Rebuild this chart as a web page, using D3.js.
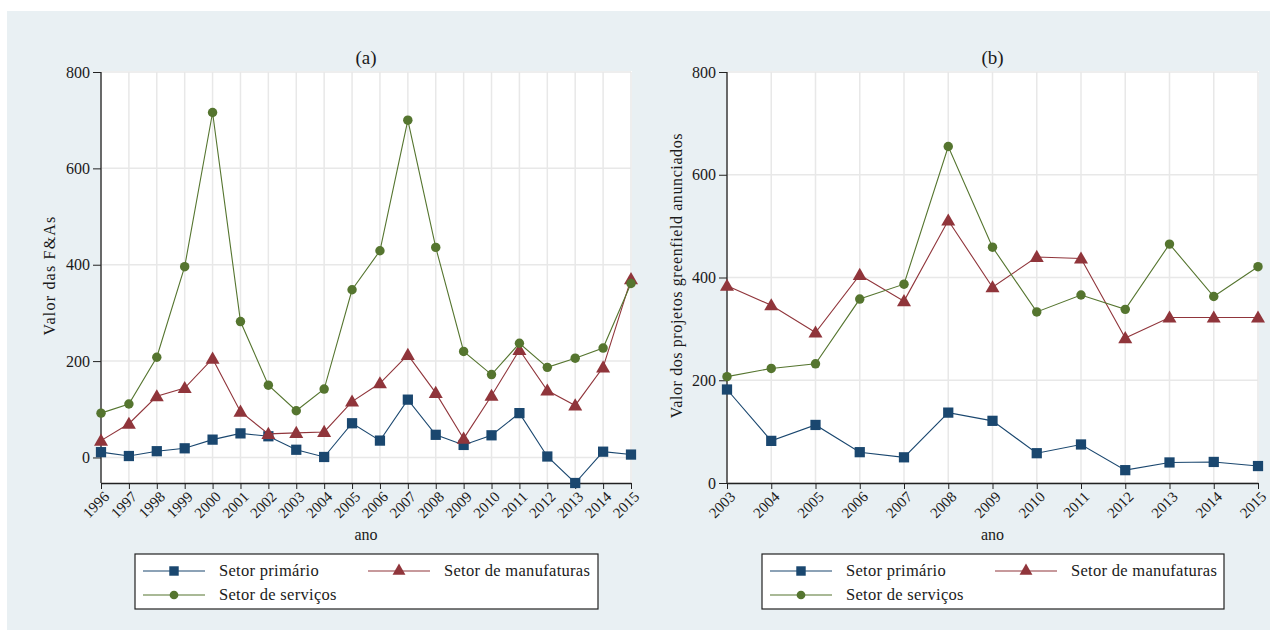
<!DOCTYPE html>
<html>
<head>
<meta charset="utf-8">
<script src="https://cdn.jsdelivr.net/npm/d3@7"></script>
<style>
  html, body { margin: 0; padding: 0; background: #ffffff; }
  svg { display: block; }
  svg text { font-family: "Liberation Serif", "Times New Roman", Times, serif; fill: #1a1a1a; }
</style>
</head>
<body>
<svg id="chart" width="1277" height="639"></svg>
<script>
// Panel (a): value of M&As by sector, 1996-2015
const yearsA = [1996, 1997, 1998, 1999, 2000, 2001, 2002, 2003, 2004, 2005,
                2006, 2007, 2008, 2009, 2010, 2011, 2012, 2013, 2014, 2015];
const primarioA = [11, 3, 13, 19, 37, 50, 44, 16, 1, 71,
                   35, 120, 47, 26, 46, 92, 2, -53, 12, 6];
const manufaturasA = [35, 70, 127, 144, 205, 95, 49, 51, 53, 116,
                      154, 213, 134, 39, 128, 223, 139, 108, 187, 370];
const servicosA = [92, 111, 208, 396, 716, 282, 150, 97, 142, 348,
                   429, 700, 436, 220, 172, 237, 187, 206, 227, 361];

// Panel (b): value of announced greenfield projects by sector, 2003-2015
const yearsB = [2003, 2004, 2005, 2006, 2007, 2008, 2009, 2010, 2011, 2012, 2013, 2014, 2015];
const primarioB = [182, 82, 113, 60, 50, 137, 121, 58, 75, 25, 40, 41, 33];
const manufaturasB = [384, 346, 293, 405, 354, 511, 381, 440, 437, 282, 322, 322, 322];
const servicosB = [207, 223, 232, 358, 387, 655, 459, 333, 366, 338, 465, 363, 421];

const yTicks = [0, 200, 400, 600, 800];
const seriesNames = ["Setor primário", "Setor de manufaturas", "Setor de serviços"];
const seriesColors = ["#1a476f", "#90353b", "#55752f"];
const seriesSymbols = [d3.symbolSquare, d3.symbolTriangle, d3.symbolCircle];
const symbolSizes = [105, 85, 70];

const FONT = "'Liberation Serif', 'Times New Roman', Times, serif";
const svg = d3.select("#chart");

// Light outer background
svg.append("rect")
  .attr("x", 7).attr("y", 11).attr("width", 1263).attr("height", 619)
  .attr("fill", "#e9f0f3");

function drawPanel(opt) {
  const g = svg.append("g");
  const yMin = Math.min(0, d3.min(opt.series.flat()));
  const x = d3.scaleLinear()
    .domain([opt.years[0], opt.years[opt.years.length - 1]])
    .range([opt.left, opt.right]);
  const y = d3.scaleLinear()
    .domain([yMin, 800])
    .range([opt.bottom, opt.top]);

  // Plot region
  g.append("rect")
    .attr("x", opt.left).attr("y", opt.top - 1)
    .attr("width", opt.right - opt.left + 1).attr("height", opt.bottom - opt.top + 1)
    .attr("fill", "#ffffff");

  // Grid lines
  g.append("g").selectAll("line").data(opt.years).join("line")
    .attr("x1", d => x(d)).attr("x2", d => x(d))
    .attr("y1", opt.top).attr("y2", opt.bottom)
    .attr("stroke", "#e8e8e8").attr("stroke-width", 1.5);
  g.append("g").selectAll("line").data(yTicks).join("line")
    .attr("x1", opt.left).attr("x2", opt.right)
    .attr("y1", d => y(d)).attr("y2", d => y(d))
    .attr("stroke", "#e8e8e8").attr("stroke-width", 1.5);

  // Axes
  const yAxis = g.append("g")
    .attr("transform", `translate(${opt.left},0)`)
    .attr("font-family", FONT)
    .call(d3.axisLeft(y).tickValues(yTicks).tickSize(8).tickPadding(3).tickSizeOuter(0));
  yAxis.select(".domain").attr("stroke", "#222").attr("stroke-width", 1.3)
    .attr("d", `M0,${opt.bottom}V${opt.top}`);
  yAxis.selectAll(".tick line").attr("stroke", "#222");
  yAxis.selectAll(".tick text")
    .attr("font-family", FONT).style("font-size", "16px")
    .attr("fill", "#222");

  const xAxis = g.append("g")
    .attr("transform", `translate(0,${opt.bottom})`)
    .attr("font-family", FONT)
    .call(d3.axisBottom(x).tickValues(opt.years).tickFormat(d3.format("d"))
      .tickSize(6).tickSizeOuter(0));
  xAxis.select(".domain").attr("stroke", "#222").attr("stroke-width", 1.3);
  xAxis.selectAll(".tick line").attr("stroke", "#222");
  xAxis.selectAll(".tick text")
    .attr("font-family", FONT).style("font-size", "15px")
    .attr("fill", "#222")
    .attr("text-anchor", "end")
    .attr("dy", "0.35em")
    .attr("transform", "translate(5,11) rotate(-45)")
    .attr("y", 0).attr("x", 0);

  // Series lines then markers
  const line = d3.line().x((d, i) => x(opt.years[i])).y(d => y(d));
  opt.series.forEach((vals, s) => {
    g.append("path").datum(vals)
      .attr("d", line)
      .attr("fill", "none")
      .attr("stroke", seriesColors[s])
      .attr("stroke-width", 1.1);
    g.append("g").selectAll("path").data(vals).join("path")
      .attr("d", d3.symbol().type(seriesSymbols[s]).size(symbolSizes[s]))
      .attr("transform", (d, i) => `translate(${x(opt.years[i])},${y(d) + (s === 1 ? 1 : 0)})`)
      .attr("fill", seriesColors[s]);
  });

  // Titles
  const cx = (opt.left + opt.right) / 2;
  g.append("text").attr("x", cx).attr("y", 64)
    .attr("text-anchor", "middle").attr("font-family", FONT)
    .style("font-size", "19px").attr("fill", "#3a3a3a")
    .text(opt.title);
  g.append("text").attr("x", cx).attr("y", 540)
    .attr("text-anchor", "middle").attr("font-family", FONT)
    .style("font-size", "16px")
    .text("ano");
  g.append("text")
    .attr("transform", `translate(${opt.ylabelX},${(opt.top + opt.bottom) / 2 - 2}) rotate(-90)`)
    .attr("text-anchor", "middle").attr("font-family", FONT)
    .style("font-size", "16px").style("letter-spacing", opt.ylabelSpacing)
    .text(opt.ylabel);

  // Legend
  const lg = g.append("g");
  lg.append("rect")
    .attr("x", opt.legX).attr("y", 554).attr("width", opt.legW).attr("height", 55)
    .attr("fill", "#ffffff").attr("stroke", "#222").attr("stroke-width", 1.2);
  const legPos = [
    {lx: opt.legX + 8, row: 571},
    {lx: opt.legX + opt.legCol2, row: 571},
    {lx: opt.legX + 8, row: 595}
  ];
  seriesNames.forEach((name, s) => {
    const p = legPos[s];
    lg.append("line")
      .attr("x1", p.lx).attr("x2", p.lx + 62)
      .attr("y1", p.row).attr("y2", p.row)
      .attr("stroke", seriesColors[s]).attr("stroke-width", 1.1);
    lg.append("path")
      .attr("d", d3.symbol().type(seriesSymbols[s]).size(symbolSizes[s] * 0.85))
      .attr("transform", `translate(${p.lx + 31},${p.row})`)
      .attr("fill", seriesColors[s]);
    lg.append("text")
      .attr("x", p.lx + 76).attr("y", p.row + 5)
      .attr("font-family", FONT)
      .style("font-size", "16.5px").style("letter-spacing", "0.3px")
      .text(name);
  });
}

drawPanel({
  years: yearsA,
  series: [primarioA, manufaturasA, servicosA],
  left: 101, right: 631, top: 72, bottom: 483,
  title: "(a)",
  ylabel: "Valor das F&As",
  ylabelX: 55,
  ylabelSpacing: "1.2px",
  legX: 135, legW: 463, legCol2: 233
});

drawPanel({
  years: yearsB,
  series: [primarioB, manufaturasB, servicosB],
  left: 727, right: 1258, top: 72, bottom: 483,
  title: "(b)",
  ylabel: "Valor dos projetos greenfield anunciados",
  ylabelX: 682,
  ylabelSpacing: "0.6px",
  legX: 762, legW: 462, legCol2: 233
});
</script>
</body>
</html>
